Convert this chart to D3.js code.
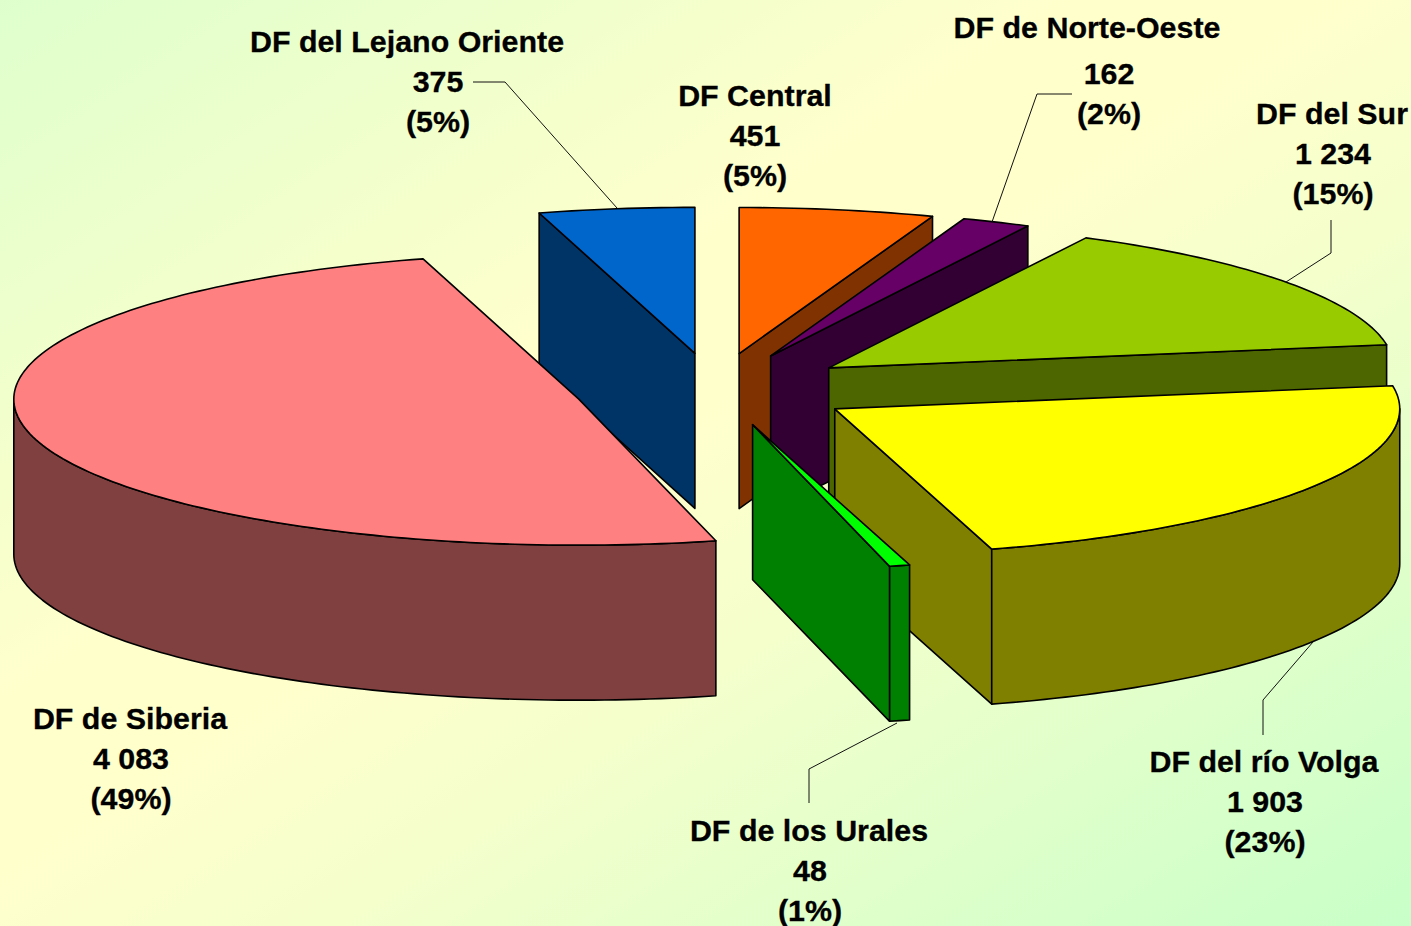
<!DOCTYPE html>
<html>
<head>
<meta charset="utf-8">
<script src="https://cdn.jsdelivr.net/npm/d3@7"></script>
<style>
    html, body { margin: 0; padding: 0; overflow: hidden; }
    text { font-family: "Liberation Sans", Arial, sans-serif; font-weight: bold; font-size: 30.4px; fill: #000; stroke: #000; stroke-width: 0.3px; text-anchor: middle; }
</style>
</head>
<body>
<div id="chart"></div>
<script>
// clockwise from 12 o'clock, same order as the sheet
const regions = ["DF Central", "DF de Norte-Oeste", "DF del Sur", "DF del río Volga", "DF de los Urales", "DF de Siberia", "DF del Lejano Oriente"];
const values = [451, 162, 1234, 1903, 48, 4083, 375];

const topColors = ["#FF6600", "#660066", "#99CC00", "#FFFF00", "#00FF00", "#FF8080", "#0066CC"];
const sideColors = ["#803300", "#330033", "#4D6600", "#808000", "#008000", "#804040", "#003366"];

// label placement: name x/y, then x and y of the value line and the percent line
const labelPos = [
    [755, 106, 755, 146, 186],
    [1087, 38, 1109, 84, 124],
    [1332, 124, 1333, 164, 204],
    [1264, 772, 1265, 812, 852],
    [809, 841, 810, 881, 921],
    [130, 729, 131, 769, 809],
    [407, 52, 438, 92, 132]
];
const leaders = [
    null,
    [[1072, 94], [1037, 94], [992, 222]],
    [[1331, 220], [1331, 253], [1286, 282]],
    [[1263, 735], [1263, 700], [1313, 642]],
    [[809, 803], [809, 769], [897, 723]],
    null,
    [[473, 82], [505, 82], [617, 208]]
];

const width = 1411, height = 926;
const cx = 715, cy = 389.5, rx = 565, ry = 146, depth = 155, explode = 0.25;
// the inner edges sit a hair past the values' angles, the 12 o'clock edge stays put
const skew = 0.35 * Math.PI / 180;

const svg = d3.select("#chart").append("svg")
    .attr("width", width)
    .attr("height", height);

const grad = svg.append("defs").append("linearGradient")
    .attr("id", "bg")
    .attr("x1", 0).attr("y1", 0)
    .attr("x2", 1).attr("y2", 1);
grad.selectAll("stop")
    .data([[0, "#DEFFCC"], [0.38, "#FFFFCC"], [0.47, "#FFFFCC"], [0.62, "#F4FFCC"], [1, "#C8FFC8"]])
    .join("stop")
    .attr("offset", d => d[0])
    .attr("stop-color", d => d[1]);

svg.append("rect").attr("width", width).attr("height", height).attr("fill", "url(#bg)");

const pie = d3.pie().sort(null).value(d => d);
const slices = pie(values).map((d, i) => {
    const mid = (d.startAngle + d.endAngle) / 2;
    return {
        i: i,
        a0: i == 0 ? d.startAngle : d.startAngle + skew,
        a1: i == values.length - 1 ? d.endAngle : d.endAngle + skew,
        mid: mid,
        x: cx + explode * rx * Math.sin(mid),
        y: cy - explode * ry * Math.cos(mid)
    };
});

const px = (s, a) => s.x + rx * Math.sin(a);
const py = (s, a) => s.y - ry * Math.cos(a);
const line = d3.line();

function arcPoints(s, a0, a1, dy) {
    const n = Math.max(2, Math.ceil((a1 - a0) / 0.02));
    return d3.range(n + 1).map(k => {
        const a = a0 + (a1 - a0) * k / n;
        return [px(s, a), py(s, a) + dy];
    });
}

// a cut face shows only when its outward normal points to the viewer
function wall(s, a) {
    return line([[s.x, s.y], [px(s, a), py(s, a)], [px(s, a), py(s, a) + depth], [s.x, s.y + depth]]) + "Z";
}

const plot = svg.append("g")
    .attr("stroke", "#000")
    .attr("stroke-width", 1.6)
    .attr("stroke-linejoin", "round");

// back slices first
const order = slices.slice().sort((a, b) => d3.ascending(-Math.cos(a.mid), -Math.cos(b.mid)));

order.forEach(s => {
    const g = plot.append("g");
    const top = topColors[s.i], side = sideColors[s.i];

    if (Math.cos(s.a0 - Math.PI / 2) < -1e-6) {
        g.append("path").attr("d", wall(s, s.a0)).attr("fill", side);
    }
    if (Math.cos(s.a1 + Math.PI / 2) < -1e-6) {
        g.append("path").attr("d", wall(s, s.a1)).attr("fill", side);
    }

    // outer rim, front half of the ellipse only
    const r0 = Math.max(s.a0, Math.PI / 2), r1 = Math.min(s.a1, Math.PI * 1.5);
    if (r1 > r0) {
        const pts = arcPoints(s, r0, r1, 0).concat(arcPoints(s, r0, r1, depth).reverse());
        g.append("path").attr("d", line(pts) + "Z").attr("fill", side);
    }

    g.append("path")
        .attr("d", line([[s.x, s.y]].concat(arcPoints(s, s.a0, s.a1, 0))) + "Z")
        .attr("fill", top);
});

svg.append("g")
    .selectAll("path")
    .data(leaders.filter(d => d))
    .join("path")
    .attr("d", d => line(d))
    .attr("fill", "none")
    .attr("stroke", "#111")
    .attr("stroke-width", 1);

const fmtValue = d3.formatLocale({ decimal: ",", thousands: " ", grouping: [3], currency: ["", ""] }).format(",");
const fmtPct = d3.format(".0%");
const total = d3.sum(values);

const labels = svg.append("g");
regions.forEach((name, i) => {
    const p = labelPos[i];
    labels.append("text").attr("x", p[0]).attr("y", p[1]).text(name);
    labels.append("text").attr("x", p[2]).attr("y", p[3]).text(fmtValue(values[i]));
    labels.append("text").attr("x", p[2]).attr("y", p[4]).text("(" + fmtPct(values[i] / total) + ")");
});
</script>
</body>
</html>
